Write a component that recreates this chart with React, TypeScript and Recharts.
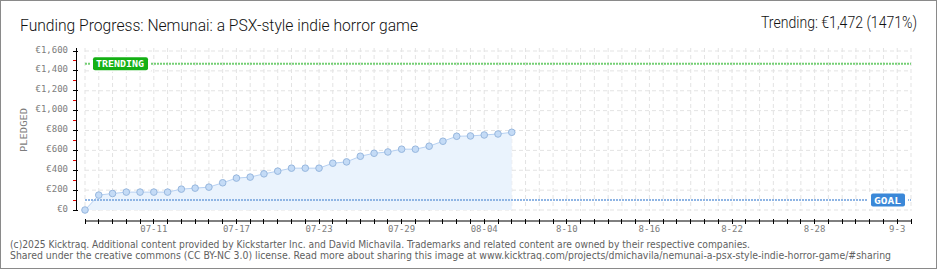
import React from 'react';
import { ComposedChart, Area, XAxis, YAxis, CartesianGrid, ReferenceLine } from 'recharts';

// pledged total per day, day 0 = 07-06
const pledged = [0, 150, 166, 180, 180, 180, 180, 210, 220, 230, 274, 321, 331, 364, 391, 421, 421, 421, 471, 484, 541, 571, 584, 612, 612, 642, 692, 742, 745, 755, 765, 782];
const labelDays = [5, 11, 17, 23, 29, 35, 41, 47, 53, 59];
const dateLabels = ['07-11', '07-17', '07-23', '07-29', '08-04', '8-10', '8-16', '8-22', '8-28', '9-3'];
const lastDay = 60;
const goal = 100;
const trending = 1472;

const allDays = Array.from({ length: lastDay + 1 }, (_, i) => i);
const yTicks = Array.from({ length: 17 }, (_, i) => i * 100);
const yMajor = yTicks.filter(v => v % 200 === 0);

const data = pledged.map((v, i) => ({ day: i, pledged: v }));

const pixelFont = "'DejaVu Sans Mono', monospace";
const titleFont = "Roboto, 'DejaVu Sans Condensed', sans-serif";
const footFont = "'DejaVu Sans Condensed', 'DejaVu Sans', sans-serif";

const XTick = ({ x, y, payload }) => {
    const i = labelDays.indexOf(payload.value);
    return (
        <g shapeRendering="crispEdges">
            <line x1={x} x2={x} y1={y - 2.5} y2={y + 2.5} stroke="#000"/>
            {i >= 0 && (
                <text x={x} y={y + 11} textAnchor="middle" fill="#7d7d7d" fontSize={9} fontFamily={pixelFont}>
                    {dateLabels[i]}
                </text>
            )}
        </g>
    );
};

const YTick = ({ x, y, payload }) => {
    const v = payload.value;
    const ax = x - 9;
    const major = v % 200 === 0;
    return (
        <g shapeRendering="crispEdges">
            {major
                ? <line x1={ax - 3.5} x2={ax + 1.5} y1={y} y2={y} stroke="#000"/>
                : <line x1={ax - 3.5} x2={ax} y1={y} y2={y} stroke="#e00000"/>}
            {major && (
                <text x={ax - 8} y={y + 1.5} textAnchor="end" fill="#7d7d7d" fontSize={9} fontFamily={pixelFont}>
                    {'€' + v.toLocaleString('en-US')}
                </text>
            )}
        </g>
    );
};

const Tag = ({ viewBox, text, color, side, w }) => {
    const vb = viewBox || {};
    const x0 = vb.x ?? vb.x1;
    const width = vb.width ?? (vb.x2 - vb.x1);
    const y = vb.y ?? vb.y1;
    const bx = side === 'left' ? x0 + 8 : x0 + width - 6 - w;
    return (
        <g>
            <rect x={bx - 3} y={y - 8} width={w + 6} height={16} fill="#fff"/>
            <rect x={bx} y={y - 6.5} width={w} height={13} rx={2} fill={color}/>
            <text x={bx + 3} y={y + 3.5} fill="#fff" fontSize={9} fontWeight="bold" fontFamily={pixelFont}
                  textLength={w - 7} lengthAdjust="spacingAndGlyphs">
                {text}
            </text>
        </g>
    );
};

export default function App() {
    return (
        <div style={{ position: 'absolute', left: 0, top: 0, width: 940, height: 270, background: '#fff' }}>
            <ComposedChart width={940} height={270} data={data}
                           margin={{ top: 48, right: 29, bottom: 0, left: 0 }}>
                <CartesianGrid stroke="#e3e3e3" strokeDasharray="4 3" y={48} height={163}
                               horizontalValues={yMajor} verticalValues={allDays}/>
                <CartesianGrid horizontal={false} verticalPoints={[76.5]} x={76} y={48} width={1} height={163}
                               stroke="#000" strokeDasharray="0"/>
                <XAxis dataKey="day" type="number" domain={[0, lastDay]} ticks={allDays} interval={0}
                       height={49} tickSize={0} tickMargin={0} tickLine={false}
                       axisLine={{ stroke: '#000' }} tick={<XTick/>}/>
                <YAxis type="number" domain={[0, 1600]} ticks={yTicks} interval={0} width={85}
                       padding={{ top: 3, bottom: 11 }} tickSize={0} tickMargin={0} tickLine={false}
                       axisLine={false} tick={<YTick/>}/>
                <Area type="linear" dataKey="pledged" stroke="#b7d1f2" strokeWidth={1} fill="#eaf3fd"
                      fillOpacity={1} isAnimationActive={false} activeDot={false}
                      dot={{ r: 3.3, fill: '#c4dbf6', stroke: '#97b7de', strokeWidth: 1 }}/>
                <ReferenceLine y={goal} stroke="#8fb5e4" strokeWidth={2} strokeDasharray="2 1"
                               label={(p) => <Tag {...p} text="GOAL" color="#3b88d8" side="right" w={34}/>}/>
                <ReferenceLine y={trending} stroke="#74cf74" strokeWidth={2} strokeDasharray="2 1"
                               label={(p) => <Tag {...p} text="TRENDING" color="#14b014" side="left" w={55}/>}/>
            </ComposedChart>
            <svg width={940} height={270} style={{ position: 'absolute', left: 0, top: 0, pointerEvents: 'none' }}>
                <rect x={0.5} y={0.5} width={936} height={268} fill="none" stroke="#8a8a8a"/>
                <text x={20} y={31} fontSize={16} fontWeight={300} fill="#111" fontFamily={titleFont}
                      textLength={398} lengthAdjust="spacingAndGlyphs">
                    Funding Progress: Nemunai: a PSX-style indie horror game
                </text>
                <text x={761} y={28} fontSize={16} fontWeight={300} fill="#111"
                      fontFamily={titleFont} textLength={156} lengthAdjust="spacingAndGlyphs">
                    Trending: €1,472 (1471%)
                </text>
                <text transform="translate(27,130) rotate(-90)" textAnchor="middle" fontSize={9} fill="#7d7d7d"
                      fontFamily={pixelFont} textLength={44} lengthAdjust="spacingAndGlyphs">
                    PLEDGED
                </text>
                <text x={10} y={248} fontSize={10} fill="#5f5f5f" fontFamily={footFont}
                      textLength={740} lengthAdjust="spacingAndGlyphs">
                    (c)2025 Kicktraq. Additional content provided by Kickstarter Inc. and David Michavila. Trademarks and related content are owned by their respective companies.
                </text>
                <text x={10} y={259} fontSize={10} fill="#5f5f5f" fontFamily={footFont}
                      textLength={881} lengthAdjust="spacingAndGlyphs">
                    Shared under the creative commons (CC BY-NC 3.0) license. Read more about sharing this image at www.kicktraq.com/projects/dmichavila/nemunai-a-psx-style-indie-horror-game/#sharing
                </text>
            </svg>
        </div>
    );
}
